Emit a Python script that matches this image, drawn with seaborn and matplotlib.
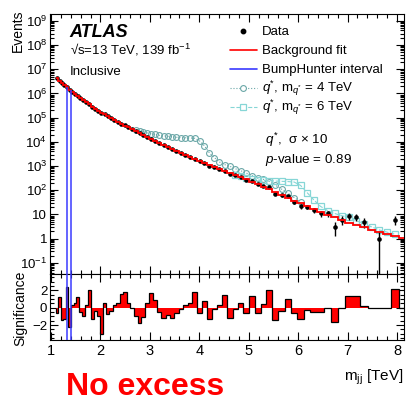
import numpy as np
import pandas as pd
import matplotlib
matplotlib.use("Agg")
import matplotlib.pyplot as plt
import seaborn as sns
from matplotlib.ticker import FixedLocator, FixedFormatter, MultipleLocator, LogLocator, NullFormatter

# ---------------- data ----------------
edges = [1.100, 1.149, 1.198, 1.248, 1.299, 1.351, 1.404, 1.458, 1.513, 1.569,
         1.626, 1.684, 1.743, 1.803, 1.864, 1.926, 1.989, 2.053, 2.118, 2.184,
         2.251, 2.319, 2.388, 2.459, 2.531, 2.604, 2.678, 2.754, 2.831, 2.909,
         2.989, 3.070, 3.152, 3.236, 3.321, 3.407, 3.495, 3.584, 3.675, 3.767,
         3.861, 3.957, 4.054, 4.153, 4.254, 4.356, 4.460, 4.566, 4.674, 4.783,
         4.894, 5.007, 5.122, 5.239, 5.358, 5.479, 5.602, 5.727, 5.854, 5.984,
         6.116, 6.250, 6.386, 6.525, 6.666, 6.809, 6.955, 7.103, 7.254, 7.407,
         7.563, 7.722, 7.883, 8.047, 8.214]

bkg = [4280000, 3430000, 2770000, 2230000, 1800000, 1457000, 1183000, 962000, 785000, 641000,
       524000, 429000, 351000, 288000, 237000, 195400, 162100, 135900, 114000, 95600,
       80300, 67300, 56500, 47400, 39800, 33400, 27900, 23200, 19290, 15960,
       13210, 10990, 9120, 7540, 6210, 5110, 4200, 3470, 2860, 2350,
       1921, 1569, 1310, 1089, 904, 747, 617, 511, 423, 349,
       287, 230, 181, 141.7, 110.5, 85.5, 65.4, 49.8, 37.7, 28.6,
       22.0, 16.8, 12.8, 9.90, 7.67, 5.92, 4.59, 3.71, 2.99, 2.39,
       1.95, 1.59, 1.29, 1.05]

data = [4278760, 3432222, 2767670, 2228059, 1803221, 1454345, 1183326, 962589, 786063, 640600,
        523348, 429197, 352184, 287302, 236805, 195002, 160892, 136121, 113764, 95476,
        80385, 67456, 56880, 47792, 39900, 33400, 27733, 22926, 19137, 16023,
        13405, 11084, 9072, 7436, 6147, 5024, 4161, 3458, 2879, 2379,
        2002, 1545, 1339, 1046, 898, 757, 654, 484, 419, 360,
        278, 251, 174, 147, 133, 73, 62, 57, 34, 22,
        21, 15, 11, 11, 3, 6, 9, 8, 5, 0,
        1, 0, 6, 0]

significance = [-0.6, 1.2, -1.4, -1.3, 2.4, -2.2, 0.3, 0.6, 1.2, -0.5,
                -0.9, 0.3, 2.0, -1.3, -0.4, -0.9, -3.0, 0.6, -0.7, -0.4,
                0.3, 0.6, 1.6, 1.8, 0.5, 0.0, -1.0, -1.8, -1.1, 0.5,
                1.7, 0.9, -0.5, -1.2, -0.8, -1.2, -0.6, -0.2, 0.35, 0.6,
                1.85, -0.6, 0.8, -1.3, -0.2, 0.35, 1.5, -1.2, -0.2, 0.6,
                -0.55, 1.4, -0.55, 0.45, 2.1, -1.4, -0.4, 1.05, -0.6, -1.3,
                -0.3, -0.5, -0.5, 0.0, -1.7, 0.0, 1.4, 1.4, 0.15, 0.0,
                0.0, 0.0, 2.2, 0.0]

qstar4 = [None] * 26 + [30900, 28200, 26000, 23700, 21900, 20200, 18600, 17800, 17000, 16200,
                        15500, 15100, 14800, 14500, 14100, 11000, 6920, 3550, 2240, 1480,
                        1150, 977, 776, 646, 513, 407, 316, 282, 229, 162,
                        112, 75.9, 50.1, 33.1] + [None] * 14

qstar6 = [None] * 48 + [447, 380, 316, 288, 263, 257, 251, 240, 234, 229,
                        219, 158, 79.4, 39.8, 21.4, 14.5, 11.0, 8.91, 7.59, 5.50,
                        4.17, 3.09, 2.29, 1.86, 1.51] + [None] * 1

bumphunter = [1.32, 1.40]

ytick_vals = [1e-1, 1, 10, 1e2, 1e3, 1e4, 1e5, 1e6, 1e7, 1e8, 1e9]
ytick_labels = [r"10$^{-1}$", "1", "10", r"10$^{2}$", r"10$^{3}$", r"10$^{4}$",
                r"10$^{5}$", r"10$^{6}$", r"10$^{7}$", r"10$^{8}$", r"10$^{9}$"]
xtick_vals = [1, 2, 3, 4, 5, 6, 7, 8]
sigtick_vals = [-2, 0, 2]

legend_labels = ["Data", "Background fit", "BumpHunter interval",
                 r"$q^{*}$, m$_{q^{*}}$ = 4 TeV", r"$q^{*}$, m$_{q^{*}}$ = 6 TeV"]

# ---------------- style ----------------
sns.set_theme(style="ticks")
plt.rcParams["font.family"] = ["Liberation Sans", "DejaVu Sans"]
plt.rcParams.update({
    "mathtext.fontset": "custom",
    "mathtext.rm": "Liberation Sans",
    "mathtext.it": "Liberation Sans:italic",
    "mathtext.bf": "Liberation Sans:bold",
    "axes.edgecolor": "black",
    "axes.linewidth": 0.8,
    "xtick.color": "black",
    "ytick.color": "black",
    "text.color": "black",
    "axes.labelcolor": "black",
})

C4 = "#6aa7a7"
C6 = "#86d6d6"
RED = "#ff0000"
BLUE = "#3a3aff"

e = np.array(edges)
centers = 0.5 * (e[:-1] + e[1:])
df = pd.DataFrame({"m": centers, "bkg": bkg, "data": data, "sig": significance,
                   "q4": pd.to_numeric(pd.Series(qstar4), errors="coerce"),
                   "q6": pd.to_numeric(pd.Series(qstar6), errors="coerce")})

fig = plt.figure(figsize=(4.13, 4.07), dpi=100)
ax = fig.add_axes([0.121, 0.327, 0.857, 0.639])
ax2 = fig.add_axes([0.121, 0.165, 0.857, 0.162], sharex=ax)

YMIN, YMAX = 0.035, 1.95e9
ax.set_yscale("log")

# signal curves
s4 = df.dropna(subset=["q4"])
sns.lineplot(data=s4, x="m", y="q4", ax=ax, color=C4, lw=0.8, linestyle=":",
             marker="o", markersize=4.2, markerfacecolor="none", markeredgecolor=C4,
             markeredgewidth=0.8, errorbar=None, legend=False, zorder=2)
s6 = df.dropna(subset=["q6"])
sns.lineplot(data=s6, x="m", y="q6", ax=ax, color=C6, lw=0.8, linestyle="--",
             marker="s", markersize=5, markerfacecolor="none", markeredgecolor=C6,
             markeredgewidth=0.9, errorbar=None, legend=False, zorder=2)

# data
d = df[df["data"] > 0]
err = np.sqrt(d["data"].values)
ax.errorbar(d["m"], d["data"], yerr=[err, err], fmt="none", ecolor="black",
            elinewidth=1.0, capsize=0, zorder=3)
sns.scatterplot(data=d, x="m", y="data", ax=ax, color="black", s=11, linewidth=0,
                zorder=4, legend=False)

# background fit
ax.stairs(df["bkg"].values, e, baseline=None, color=RED, lw=1.3, zorder=5)

# BumpHunter interval
bh_top = np.interp(bumphunter, centers, df["bkg"].values)
ax.vlines(bumphunter, YMIN, bh_top, color=BLUE, lw=1.1, zorder=6)

ax.set_ylim(YMIN, YMAX)
ax.set_xlim(0.98, 8.14)

# texts
ax.text(0.056, 0.912, "ATLAS", transform=ax.transAxes, fontsize=13,
        fontweight="bold", fontstyle="italic", va="baseline")
ax.text(0.056, 0.842, "\u221as=13 TeV, 139 fb$^{-1}$", transform=ax.transAxes,
        fontsize=9.5, va="baseline")
ax.text(0.056, 0.765, "Inclusive", transform=ax.transAxes, fontsize=9.5, va="baseline")
ax.text(0.607, 0.498, r"$q^{*}$,  σ × 10", transform=ax.transAxes, fontsize=9.6, va="baseline")
ax.text(0.607, 0.428, r"$p$-value = 0.89", transform=ax.transAxes, fontsize=9.6, va="baseline")

# legend, drawn row by row
rows = [0.935, 0.862, 0.788, 0.715, 0.642]
hx0, hx1, hxm, tx = 0.508, 0.585, 0.5465, 0.599
kw = dict(transform=ax.transAxes, clip_on=False)
ax.plot([hxm], [rows[0]], ls="none", marker="o", color="black", markersize=3.2, **kw)
ax.plot([hx0, hx1], [rows[1]] * 2, color=RED, lw=1.2, **kw)
ax.plot([hx0, hx1], [rows[2]] * 2, color=BLUE, lw=1.2, **kw)
ax.plot([hx0, hx1], [rows[3]] * 2, color=C4, lw=0.8, ls=":", **kw)
ax.plot([hxm], [rows[3]], ls="none", marker="o", markersize=4.2, markerfacecolor="white",
        markeredgecolor=C4, markeredgewidth=0.8, **kw)
ax.plot([hx0, hx1], [rows[4]] * 2, color=C6, lw=0.8, ls="--", **kw)
ax.plot([hxm], [rows[4]], ls="none", marker="s", markersize=5, markerfacecolor="white",
        markeredgecolor=C6, markeredgewidth=0.9, **kw)
for yv, lab in zip(rows, legend_labels):
    ax.text(tx, yv - 0.017, lab, transform=ax.transAxes, fontsize=9.5, va="baseline")

ax.yaxis.set_major_locator(FixedLocator(ytick_vals))
ax.yaxis.set_major_formatter(FixedFormatter(ytick_labels))
ax.yaxis.set_minor_locator(LogLocator(base=10, subs=np.arange(2, 10), numticks=100))
ax.yaxis.set_minor_formatter(NullFormatter())
ax.set_ylabel("Events", fontsize=10, loc="top")
ax.yaxis.set_label_coords(-0.07, 1.015)
ax.set_xlabel("")

# significance panel
ax2.stairs(df["sig"].values, e, baseline=0, fill=True, color=RED, lw=0, zorder=2)
ax2.stairs(df["sig"].values, e, baseline=0, color="black", lw=0.9, zorder=3)
for xb in bumphunter:
    ax2.axvline(xb, color=BLUE, lw=1.1, zorder=4)
ax2.set_ylim(-3.7, 3.9)
ax2.yaxis.set_major_locator(FixedLocator(sigtick_vals))
ax2.yaxis.set_minor_locator(MultipleLocator(0.5))
ax2.xaxis.set_major_locator(FixedLocator(xtick_vals))
ax2.xaxis.set_minor_locator(MultipleLocator(0.2))
ax2.set_ylabel("Significance", fontsize=10)
ax2.yaxis.set_label_coords(-0.065, 0.485)
ax2.set_xlabel(r"m$_{\rm jj}$ [TeV]", fontsize=11, loc="right")
ax2.xaxis.set_label_coords(1.0, -0.42)

for a in (ax, ax2):
    a.tick_params(which="both", direction="in", top=True, right=True,
                  bottom=True, left=True, width=0.8, color="black")
    a.tick_params(which="major", length=6)
    a.tick_params(which="minor", length=3)
    for sp in a.spines.values():
        sp.set_visible(True)
        sp.set_color("black")
        sp.set_linewidth(0.8)
ax.tick_params(axis="y", labelsize=9.5, pad=2)
ax.tick_params(axis="x", labelbottom=False)
ax2.tick_params(axis="y", labelsize=9.5, pad=2)
ax2.tick_params(axis="x", labelsize=10.5, pad=3)

fig.text(0.351, 0.0295, "No excess", color=RED, fontsize=23, fontweight="bold",
         ha="center", va="baseline")

fig.savefig("out.png", dpi=100)
